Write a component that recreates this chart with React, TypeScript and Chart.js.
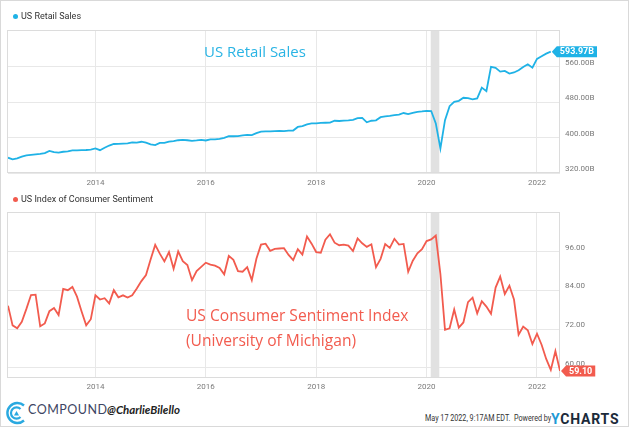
import React, { useEffect, useRef } from 'react';
import { Chart, registerables } from 'chart.js';

Chart.register(...registerables);

// Monthly data, first point = May 2012, plotted at month end
const START_YEAR = 2012;
const START_MONTH = 5;

const retailSales = [
  354.6, 351, 353, 357, 360, 361, 362, 363,
  365, 370, 367, 366, 368, 369, 371, 371, 371.5, 372, 373, 375.5,
  371.5, 377, 382, 385.5, 386, 386.5, 387, 389, 388.5, 390.6, 388.4, 384.5,
  383, 388, 388, 391, 392, 394, 395, 394, 392.5, 393.5, 395, 393.5,
  396, 396, 397, 399.5, 403, 403, 403.5, 405, 406, 405.5, 410, 413.5,
  414, 414, 414.5, 415, 414.5, 415.5, 416, 424, 426, 430, 432, 432,
  433, 433.5, 434, 438, 437.5, 438.5, 439, 440, 444, 444.5, 434.5, 438,
  439, 446, 448, 449, 450.5, 452, 455.5, 453, 456, 458, 459, 460.5,
  460, 432, 375.6, 439.5, 471, 480.7, 483, 490, 489, 486.5, 488.6, 513,
  505, 559.6, 557.4, 549, 550.5, 544.7, 547, 552, 559.6, 565.5, 558, 577.7,
  583.7, 589.7, 593.97,
];

const consumerSentiment = [
  79.3, 73.2, 72.3, 74.3, 78.3, 82.6, 82.7, 72.9,
  73.8, 77.6, 78.6, 76.4, 84.5, 84.1, 85.1, 82.1, 77.5, 73.2, 75.1, 82.5,
  81.2, 81.6, 80.0, 84.1, 81.9, 82.5, 81.8, 82.5, 84.6, 86.9, 88.8, 93.6,
  98.1, 95.4, 93.0, 95.9, 90.7, 96.1, 93.1, 91.9, 87.2, 90.0, 91.3, 92.6,
  92.0, 91.7, 91.0, 89.0, 94.7, 93.5, 90.0, 89.8, 91.2, 87.2, 93.8, 98.2,
  98.5, 96.3, 96.9, 97.0, 97.1, 95.0, 93.4, 96.8, 95.1, 100.7, 98.5, 95.9,
  95.7, 99.7, 101.4, 98.8, 98.0, 98.2, 97.9, 96.2, 100.1, 98.6, 97.5, 98.3,
  91.2, 93.8, 98.4, 97.2, 100.0, 98.2, 98.4, 89.8, 93.2, 95.5, 96.8, 99.3,
  99.8, 101.0, 89.1, 71.8, 72.3, 78.1, 72.5, 74.1, 80.4, 81.8, 76.9, 80.7,
  79.0, 76.8, 84.9, 88.3, 82.9, 85.5, 81.2, 70.3, 72.8, 71.7, 67.4, 70.6,
  67.2, 62.8, 59.4, 65.2, 59.1,
];

const X_TICKS = [2014, 2016, 2018, 2020, 2022];
const RETAIL_TICKS = [320, 400, 480, 560];
const SENTIMENT_TICKS = [60, 72, 84, 96];
const RECESSION = [2020.075, 2020.23];
const X_MIN = 2012 + 5 / 12;
const X_MAX = 2022 + 5 / 12;

const BLUE = '#1fb2e6';
const RED = '#f25b4e';

const toPoints = (vals: number[]) =>
  vals.map((v, i) => ({ x: START_YEAR + (START_MONTH + i) / 12, y: v }));

const decorPlugin = {
  id: 'decor',
  beforeDatasetsDraw(chart: any) {
    const { ctx, chartArea } = chart;
    const xs = chart.scales.x;
    ctx.save();
    const x0 = xs.getPixelForValue(RECESSION[0]);
    const x1 = xs.getPixelForValue(RECESSION[1]);
    ctx.fillStyle = '#e1e1e1';
    ctx.fillRect(x0, chartArea.top, x1 - x0, chartArea.bottom - chartArea.top);
    ctx.strokeStyle = '#dcdcdc';
    ctx.lineWidth = 1;
    ctx.strokeRect(
      chartArea.left - 0.5,
      chartArea.top + 0.5,
      chartArea.right - chartArea.left,
      chartArea.bottom - chartArea.top - 1
    );
    ctx.restore();
  },
  afterDatasetsDraw(chart: any) {
    const opts = chart.options.plugins.decor || {};
    const meta = chart.getDatasetMeta(0);
    const last = meta.data[meta.data.length - 1];
    if (!last) return;
    const { ctx } = chart;
    const x = last.x + 1;
    const y = last.y;
    ctx.save();
    ctx.font = 'bold 9px Roboto';
    const tw = ctx.measureText(opts.text).width;
    const h = 11;
    const tip = 5;
    const w = tw + 6;
    ctx.fillStyle = opts.color;
    ctx.beginPath();
    ctx.moveTo(x, y);
    ctx.lineTo(x + tip, y - h / 2);
    ctx.lineTo(x + tip + w, y - h / 2);
    ctx.lineTo(x + tip + w, y + h / 2);
    ctx.lineTo(x + tip, y + h / 2);
    ctx.closePath();
    ctx.fill();
    ctx.fillStyle = '#ffffff';
    ctx.textBaseline = 'middle';
    ctx.textAlign = 'left';
    ctx.fillText(opts.text, x + tip + 3, y + 0.5);
    ctx.restore();
  },
};

function buildConfig(
  data: number[],
  color: string,
  yTicks: number[],
  yMin: number,
  yMax: number,
  fmt: (v: number) => string,
  topPad: number,
  xAxisH: number,
  xPad: number,
  flagText: string
): any {
  return {
    type: 'line',
    data: {
      datasets: [
        {
          data: toPoints(data),
          borderColor: color,
          borderWidth: 1.8,
          pointRadius: 0,
          tension: 0,
          fill: false,
        },
      ],
    },
    options: {
      responsive: false,
      maintainAspectRatio: false,
      animation: false,
      layout: { padding: { left: 8, top: topPad, right: 0, bottom: 0 } },
      plugins: {
        legend: { display: false },
        tooltip: { enabled: false },
        decor: { text: flagText, color },
      },
      scales: {
        x: {
          type: 'linear',
          min: X_MIN,
          max: X_MAX,
          afterBuildTicks: (s: any) => {
            s.ticks = X_TICKS.map((v) => ({ value: v }));
          },
          afterFit: (s: any) => {
            s.height = xAxisH;
          },
          grid: { color: '#e8e8e8', drawTicks: false },
          border: { display: false },
          ticks: {
            padding: xPad,
            color: '#7a7a7a',
            font: { family: 'Roboto', size: 8 },
            maxRotation: 0,
            autoSkip: false,
            callback: (v: any) => String(v),
          },
        },
        y: {
          position: 'right',
          min: yMin,
          max: yMax,
          afterBuildTicks: (s: any) => {
            s.ticks = yTicks.map((v) => ({ value: v }));
          },
          afterFit: (s: any) => {
            s.width = 70;
          },
          grid: { color: '#e8e8e8', drawTicks: false },
          border: { display: false },
          ticks: {
            padding: 5,
            labelOffset: -4,
            color: '#7a7a7a',
            font: { family: 'Roboto', size: 8 },
            callback: (v: any) => fmt(Number(v)),
          },
        },
      },
    },
    plugins: [decorPlugin],
  };
}

const abs = (o: any): React.CSSProperties => ({ position: 'absolute', whiteSpace: 'nowrap', ...o });

export default function App() {
  const topRef = useRef<HTMLCanvasElement>(null);
  const botRef = useRef<HTMLCanvasElement>(null);

  useEffect(() => {
    const c1 = new Chart(
      topRef.current as HTMLCanvasElement,
      buildConfig(
        retailSales,
        BLUE,
        RETAIL_TICKS,
        320,
        643,
        (v) => v.toFixed(2) + 'B',
        30,
        19,
        5,
        retailSales[retailSales.length - 1].toFixed(2) + 'B'
      )
    );
    const c2 = new Chart(
      botRef.current as HTMLCanvasElement,
      buildConfig(
        consumerSentiment,
        RED,
        SENTIMENT_TICKS,
        56.9,
        108.3,
        (v) => v.toFixed(2),
        20,
        14,
        4,
        consumerSentiment[consumerSentiment.length - 1].toFixed(2)
      )
    );
    return () => {
      c1.destroy();
      c2.destroy();
    };
  }, []);

  return (
    <div style={abs({ left: 0, top: 0, width: 630, height: 429, background: '#fff', overflow: 'hidden' })}>
      <div
        style={abs({
          left: 0,
          top: 0,
          width: 629,
          height: 427,
          boxSizing: 'border-box',
          border: '1px solid #d9d9d9',
        })}
      />
      <canvas ref={topRef} width={630} height={192} style={abs({ left: 0, top: 0, width: 630, height: 192 })} />
      <canvas ref={botRef} width={630} height={200} style={abs({ left: 0, top: 192, width: 630, height: 200 })} />

      {/* legends */}
      <div style={abs({ left: 12.5, top: 14, width: 5, height: 5, borderRadius: 3, background: BLUE })} />
      <div style={abs({ left: 21, top: 12, fontFamily: 'Roboto', fontSize: 9, lineHeight: '9px', color: '#333' })}>
        US Retail Sales
      </div>
      <div style={abs({ left: 12.5, top: 196.5, width: 5, height: 5, borderRadius: 3, background: RED })} />
      <div style={abs({ left: 21, top: 194.5, fontFamily: 'Roboto', fontSize: 9, lineHeight: '9px', color: '#333' })}>
        US Index of Consumer Sentiment
      </div>

      {/* annotations */}
      <div style={abs({ left: 204, top: 44, fontFamily: 'Open Sans', fontSize: 15, lineHeight: '15px', color: '#2ab4e4' })}>
        US Retail Sales
      </div>
      <div style={abs({ left: 186, top: 306.5, fontFamily: 'Open Sans', fontSize: 15.6, lineHeight: '16px', color: RED })}>
        US Consumer Sentiment Index
      </div>
      <div style={abs({ left: 186, top: 331.5, fontFamily: 'Open Sans', fontSize: 15.6, lineHeight: '16px', color: RED })}>
        (University of Michigan)
      </div>

      {/* footer */}
      <svg style={abs({ left: 5, top: 401 })} width={22} height={24} viewBox="0 0 22 24">
        <path d="M19 4.5 A10 10 0 1 0 19 19.5" fill="none" stroke="#2aa9e0" strokeWidth={2.4} />
        <path d="M15.5 8 A5.6 5.6 0 1 0 15.5 16" fill="none" stroke="#2aa9e0" strokeWidth={2.2} />
        <path d="M11.5 10 L14 14.5 L9 14.5 Z" fill="#2aa9e0" />
      </svg>
      <div
        style={abs({
          left: 28,
          top: 404,
          fontFamily: 'Lato',
          fontSize: 12.5,
          lineHeight: '12.5px',
          letterSpacing: 0.5,
          color: '#3d4563',
        })}
      >
        COMPOUND
      </div>
      <div
        style={abs({
          left: 107,
          top: 404,
          fontFamily: 'Lato',
          fontStyle: 'italic',
          fontWeight: 700,
          fontSize: 11.5,
          lineHeight: '12.5px',
          color: '#222',
        })}
      >
        @CharlieBilello
      </div>
      <div
        style={abs({
          left: 425,
          top: 414,
          fontFamily: 'Roboto',
          fontSize: 9,
          lineHeight: '9px',
          color: '#333',
          transform: 'scaleX(0.8)',
          transformOrigin: 'left top',
        })}
      >
        May 17 2022, 9:17AM EDT.&nbsp; Powered by
      </div>
      <div
        style={abs({
          left: 551,
          top: 411.5,
          fontFamily: 'Roboto',
          fontWeight: 700,
          fontSize: 14,
          lineHeight: '14px',
          letterSpacing: 0.8,
          color: '#1b2a3a',
        })}
      >
        <span style={{ color: '#1f9ad6' }}>Y</span>CHARTS
      </div>
    </div>
  );
}
